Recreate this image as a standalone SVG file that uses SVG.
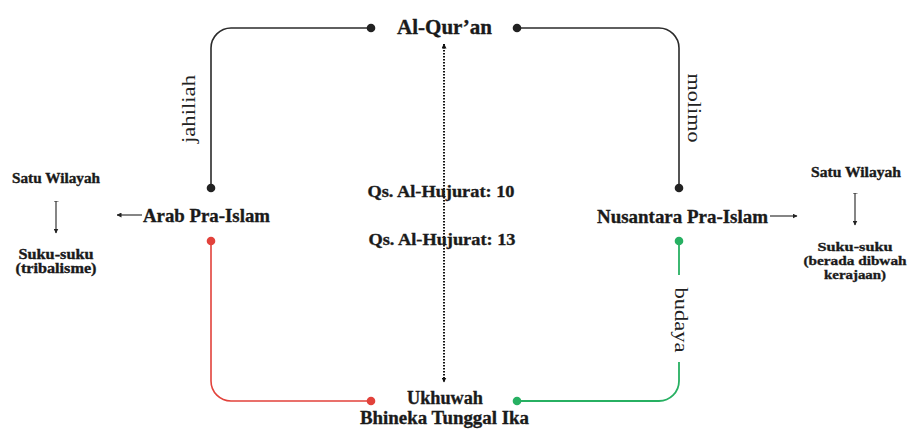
<svg xmlns="http://www.w3.org/2000/svg" width="908" height="429" viewBox="0 0 908 429">
<style>
.t{font-family:"Liberation Serif","DejaVu Serif",serif;font-weight:bold;fill:#1a1a1a;stroke:#1a1a1a;stroke-width:0.35;text-anchor:middle}
.r{font-family:"Liberation Serif","DejaVu Serif",serif;fill:#222;text-anchor:middle}
.k{fill:none;stroke:#2b2b2b;stroke-width:1.6}
.red{fill:none;stroke:#e2423b;stroke-width:1.6}
.grn{fill:none;stroke:#27b062;stroke-width:1.8}
.thin{fill:none;stroke:#222;stroke-width:1.1}
</style>
<defs>
<marker id="ah" viewBox="0 0 10 10" refX="9" refY="5" markerWidth="5" markerHeight="5" orient="auto-start-reverse" markerUnits="userSpaceOnUse"><path d="M0,0 L10,5 L0,10 z" fill="#111"/></marker>
<marker id="sa" viewBox="0 0 10 10" refX="9" refY="5" markerWidth="5" markerHeight="5" orient="auto" markerUnits="userSpaceOnUse"><path d="M0,0 L10,5 L0,10 z" fill="#222"/></marker>
<marker id="bar" viewBox="0 0 2 10" refX="1" refY="5" markerWidth="1" markerHeight="5" orient="auto" markerUnits="userSpaceOnUse"><rect x="0" y="0" width="2" height="10" fill="#222"/></marker>
</defs>
<rect width="908" height="429" fill="#fff"/>
<g id="connectors">
<path class="k" d="M371,28 H231 A20,20 0 0 0 211,48 V188"/>
<circle cx="371" cy="28" r="4.3" fill="#222"/>
<circle cx="211" cy="188" r="4.3" fill="#222"/>
<path class="k" d="M517,28 H659 A20,20 0 0 1 679,48 V188"/>
<circle cx="517" cy="28" r="4.3" fill="#222"/>
<circle cx="679" cy="188" r="4.3" fill="#222"/>
<path class="red" d="M211,241 V381 A20,20 0 0 0 231,401 H371"/>
<circle cx="211" cy="241" r="4.3" fill="#e2423b"/>
<circle cx="371" cy="401" r="4.3" fill="#e2423b"/>
<path class="grn" d="M679,241 V275"/>
<path class="grn" d="M517,401 H659 A20,20 0 0 0 679,381 V362"/>
<circle cx="679" cy="241" r="4.3" fill="#27b062"/>
<circle cx="517" cy="401" r="4.3" fill="#27b062"/>
<path d="M444,44 V382" fill="none" stroke="#111" stroke-width="2" stroke-dasharray="1.5,1.5" marker-start="url(#ah)" marker-end="url(#ah)"/>
<path class="thin" d="M142,215 H117" marker-end="url(#sa)"/>
<path class="thin" d="M770,216 H797" marker-end="url(#sa)"/>
<path class="thin" d="M56,201 V233" marker-start="url(#bar)" marker-end="url(#sa)"/>
<path class="thin" d="M855,193 V225" marker-start="url(#bar)" marker-end="url(#sa)"/>
<text class="r" font-size="19" textLength="68" lengthAdjust="spacingAndGlyphs" transform="translate(195,109) rotate(-90)">jahiliah</text>
<text class="r" font-size="19" textLength="69" lengthAdjust="spacingAndGlyphs" transform="translate(688,108) rotate(90)">molimo</text>
<text class="r" font-size="19" textLength="65" lengthAdjust="spacingAndGlyphs" transform="translate(675,320) rotate(90)">budaya</text>
<text class="t" font-size="17" x="441" y="197" textLength="147" lengthAdjust="spacingAndGlyphs">Qs. Al-Hujurat: 10</text>
<text class="t" font-size="17" x="442" y="245" textLength="147" lengthAdjust="spacingAndGlyphs">Qs. Al-Hujurat: 13</text>
</g>
<g id="alquran"><text class="t" font-size="22" x="444.5" y="34" textLength="95" lengthAdjust="spacingAndGlyphs">Al-Qur’an</text></g>
<g id="arab"><text class="t" font-size="19.5" x="206.5" y="222" textLength="127" lengthAdjust="spacingAndGlyphs">Arab Pra-Islam</text></g>
<g id="nusantara"><text class="t" font-size="19.5" x="682.5" y="223" textLength="171" lengthAdjust="spacingAndGlyphs">Nusantara Pra-Islam</text></g>
<g id="ukhuwah"><text class="t" font-size="18.5" x="445" y="404" textLength="76" lengthAdjust="spacingAndGlyphs">Ukhuwah</text><text class="t" font-size="18.5" x="444.5" y="424" textLength="169" lengthAdjust="spacingAndGlyphs">Bhineka Tunggal Ika</text></g>
<g id="left-wilayah"><text class="t" font-size="14" x="56" y="183" textLength="88" lengthAdjust="spacingAndGlyphs">Satu Wilayah</text></g>
<g id="left-suku"><text class="t" font-size="14" x="56" y="259" textLength="75" lengthAdjust="spacingAndGlyphs">Suku-suku</text><text class="t" font-size="14" x="56" y="273" textLength="81" lengthAdjust="spacingAndGlyphs">(tribalisme)</text></g>
<g id="right-wilayah"><text class="t" font-size="14" x="856" y="177" textLength="90" lengthAdjust="spacingAndGlyphs">Satu Wilayah</text></g>
<g id="right-suku"><text class="t" font-size="13.5" x="855" y="251" textLength="75" lengthAdjust="spacingAndGlyphs">Suku-suku</text><text class="t" font-size="13.5" x="855" y="265" textLength="103" lengthAdjust="spacingAndGlyphs">(berada dibwah</text><text class="t" font-size="13.5" x="855" y="279" textLength="62" lengthAdjust="spacingAndGlyphs">kerajaan)</text></g>
</svg>
